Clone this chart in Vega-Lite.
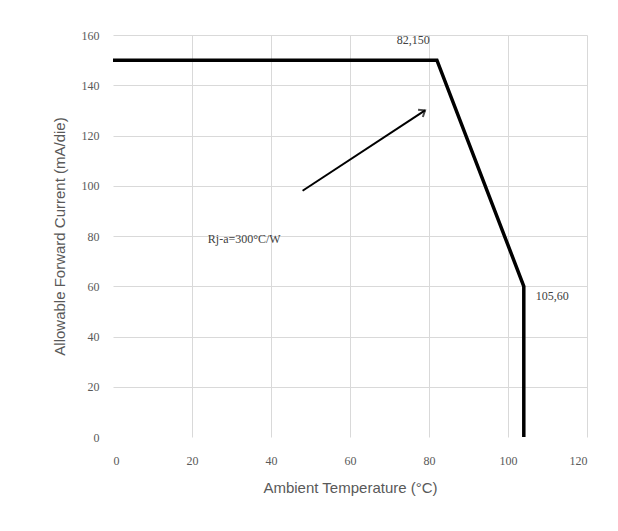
{
  "$schema": "https://vega.github.io/schema/vega-lite/v6.json",
  "width": 474,
  "height": 402,
  "autosize": "none",
  "padding": {"left": 113, "top": 35, "right": 31, "bottom": 94},
  "background": "white",
  "config": {
    "view": {"stroke": null},
    "axis": {
      "domain": false,
      "ticks": false,
      "gridColor": "#d9d9d9",
      "gridWidth": 1,
      "gridOpacity": {"condition": {"test": "datum.value === 0", "value": 0}, "value": 1},
      "labelColor": "#595959",
      "labelFont": "Liberation Serif",
      "labelFontSize": 12,
      "titleColor": "#595959",
      "titleFont": "Liberation Sans",
      "titleFontSize": 15,
      "titleFontWeight": "normal"
    }
  },
  "datasets": {
    "curve": [
      {"t": 0, "i": 150},
      {"t": 82, "i": 150},
      {"t": 104, "i": 60},
      {"t": 104, "i": 0}
    ],
    "arrow": [{"x1": 48, "y1": 98, "x2": 79, "y2": 130}],
    "labels_c": [
      {"t": 76, "i": 158, "txt": "82,150"}
    ],
    "labels_l": [
      {"t": 107, "i": 56, "txt": "105,60"},
      {"t": 24, "i": 79, "txt": "Rj-a=300°C/W"}
    ]
  },
  "layer": [
    {
      "data": {"name": "curve"},
      "mark": {"type": "line", "color": "black", "strokeWidth": 3.5, "strokeJoin": "miter"},
      "encoding": {
        "x": {
          "field": "t", "type": "quantitative",
          "scale": {"domain": [0, 120], "nice": false},
          "axis": {"values": [0, 20, 40, 60, 80, 100, 120], "title": "Ambient Temperature (°C)", "labelPadding": 18, "titlePadding": 14}
        },
        "y": {
          "field": "i", "type": "quantitative",
          "scale": {"domain": [0, 160], "nice": false},
          "axis": {"values": [0, 20, 40, 60, 80, 100, 120, 140, 160], "title": "Allowable Forward Current (mA/die)", "labelPadding": 14, "titlePadding": 14}
        },
        "order": {"value": 0}
      }
    },
    {
      "data": {"name": "arrow"},
      "mark": {"type": "rule", "color": "black", "strokeWidth": 2},
      "encoding": {
        "x": {"field": "x1", "type": "quantitative"},
        "y": {"field": "y1", "type": "quantitative"},
        "x2": {"field": "x2"},
        "y2": {"field": "y2"}
      }
    },
    {
      "data": {"name": "arrow"},
      "mark": {"type": "point", "shape": "M-1,-0.8L0,0L-1,0.8", "filled": false, "stroke": "black", "strokeWidth": 2, "size": 120, "angle": -33},
      "encoding": {
        "x": {"field": "x2", "type": "quantitative"},
        "y": {"field": "y2", "type": "quantitative"}
      }
    },
    {
      "data": {"name": "labels_c"},
      "mark": {"type": "text", "font": "Liberation Serif", "fontSize": 12, "color": "#404040", "align": "center"},
      "encoding": {
        "x": {"field": "t", "type": "quantitative"},
        "y": {"field": "i", "type": "quantitative"},
        "text": {"field": "txt"}
      }
    },
    {
      "data": {"name": "labels_l"},
      "mark": {"type": "text", "font": "Liberation Serif", "fontSize": 12, "color": "#404040", "align": "left"},
      "encoding": {
        "x": {"field": "t", "type": "quantitative"},
        "y": {"field": "i", "type": "quantitative"},
        "text": {"field": "txt"}
      }
    }
  ]
}
